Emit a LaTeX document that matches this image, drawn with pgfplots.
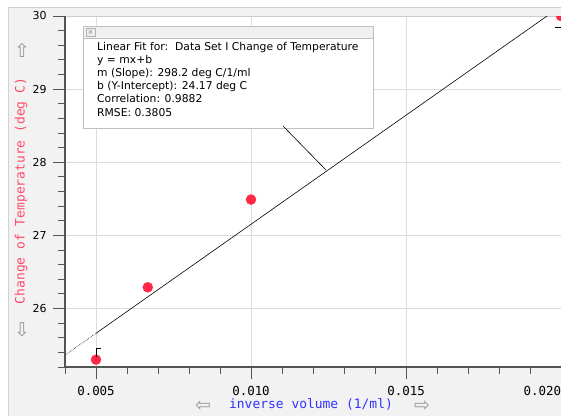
\documentclass[border=0pt]{standalone}
\usepackage{pgfplots}
\pgfplotsset{compat=1.18}
\usepackage{fontspec}
\setmainfont{DejaVu Sans}
\newfontfamily\monof{DejaVu Sans Mono}
\definecolor{ptred}{RGB}{255,40,70}
\definecolor{ylab}{RGB}{255,75,105}
\definecolor{xlab}{RGB}{50,50,255}
\definecolor{panel}{RGB}{242,242,242}
\definecolor{gridc}{RGB}{220,220,220}
\definecolor{axc}{RGB}{85,85,85}
\begin{document}
\begin{tikzpicture}[x=1bp,y=1bp]
\path[use as bounding box] (-65,-48) rectangle (496,367);
\fill[white] (-65,-48) rectangle (496,367);
\filldraw[fill=panel,draw=gray!35] (-57,-60) rectangle (520,360);
\begin{axis}[at={(0,0)}, anchor=south west, scale only axis,
  width=496bp, height=351bp,
  xmin=0.004, xmax=0.020, ymin=25.2, ymax=30.0,
  scaled x ticks=false,
  axis background/.style={fill=white},
  axis line style={gray!40},
  xtick={0.005,0.010,0.015,0.020}, xticklabels={0.005,0.010,0.015,{\makebox[0pt][r]{0.020}}},
  minor xtick={0.004,0.006,0.007,0.008,0.009,0.011,0.012,0.013,0.014,0.016,0.017,0.018,0.019},
  ytick={26,27,28,29,30}, yticklabels={26,27,28,29,30},
  minor ytick={25.2,25.4,25.6,25.8,26.2,26.4,26.6,26.8,27.2,27.4,27.6,27.8,28.2,28.4,28.6,28.8,29.2,29.4,29.6,29.8},
  tick align=outside, tick pos=left,
  major tick length=12bp, minor tick length=7bp,
  tick style={axc, line width=0.8pt},
  grid=major, major grid style={gridc, line width=0.8pt},
  xticklabel style={font=\monof\fontsize{12.5}{14}\selectfont, yshift=-4bp},
  yticklabel style={font=\fontsize{11}{13}\selectfont, xshift=-3bp},
  clip marker paths=true,
]
\addplot[black, line width=0.6pt] coordinates {(0.005,25.661) (0.0196,30.015)};
\addplot[black, line width=0.6pt, densely dotted] coordinates {(0.004,25.363) (0.005,25.661)};
\addplot[only marks, mark=*, mark size=5bp, color=ptred] coordinates {(0.005,25.30) (0.00667,26.29) (0.010,27.49) (0.020,30.0)};
\end{axis}
\draw[axc, line width=1.6pt] (0,0) -- (0,351);
\draw[axc, line width=1.6pt] (0,0) -- (496,0);
% residual marks
\draw[black, line width=0.8pt] (31,10) -- (31,19) -- (36,19);
\draw[black, line width=0.8pt] (490,340) -- (496,340);
% annotation
\filldraw[fill=white, draw=gray!50] (18,239) rectangle (308,341);
\filldraw[fill=gray!12, draw=gray!50] (18,329) rectangle (308,341);
\draw[gray!60] (21,331) rectangle (30,339);
\node[gray, font=\fontsize{7}{7}\selectfont, inner sep=0pt] at (25.5,335) {×};
\begin{scope}[every node/.style={anchor=base west, inner sep=0pt, font=\fontsize{10.8}{12}\selectfont}]
\node at (32,317) {Linear Fit for:\ \ Data Set I Change of Temperature};
\node at (32,303.8) {y = mx+b};
\node at (32,290.6) {m (Slope): 298.2 deg C/1/ml};
\node at (32,277.4) {b (Y-Intercept): 24.17 deg C};
\node at (32,264.2) {Correlation: 0.9882};
\node at (32,251) {RMSE: 0.3805};
\end{scope}
\draw[black, line width=0.6pt] (218,241) -- (261,197);
% labels
\node[rotate=90, ylab, font=\monof\fontsize{13}{14}\selectfont] at (-44,176) {Change of Temperature (deg C)};
\node[gray!80, font=\fontsize{19}{19}\selectfont] at (-43,317) {⇧};
\node[gray!80, font=\fontsize{19}{19}\selectfont] at (-43,37) {⇩};
\node[xlab, font=\monof\fontsize{13}{14}\selectfont] at (246,-37) {inverse volume (1/ml)};
\node[gray!80, font=\fontsize{19}{19}\selectfont] at (138,-39) {⇦};
\node[gray!80, font=\fontsize{19}{19}\selectfont] at (357,-39) {⇨};
\end{tikzpicture}
\end{document}
